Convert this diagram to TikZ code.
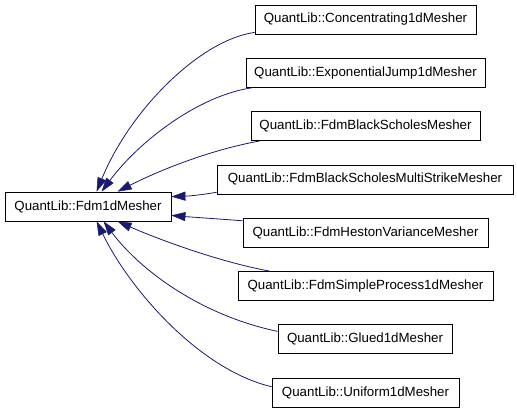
\documentclass[tikz,border=0pt]{standalone}
\usepackage{fontspec}
\setmainfont{Liberation Sans}
\usetikzlibrary{arrows.meta}
\definecolor{edgeblue}{HTML}{191970}
\begin{document}
\begin{tikzpicture}[x=1pt,y=-1pt,
  cls/.style={draw=black,line width=0.8pt,fill=white,minimum height=29pt,inner sep=0pt,
    font=\fontsize{13.3}{16}\selectfont},
  tipblue/.tip={Triangle[length=14pt,width=9pt,fill=edgeblue,line width=0.5pt]},
  inh/.style={draw=edgeblue,line width=0.8pt,-tipblue}]
\useasboundingbox (0,0) rectangle (517,413);
\node[cls,minimum width=166pt] (base) at (88,206.5) {QuantLib::Fdm1dMesher};
\node[cls,minimum width=221pt] (c1) at (365.5,19.5) {QuantLib::Concentrating1dMesher};
\node[cls,minimum width=239pt] (c2) at (365.5,72.8) {QuantLib::ExponentialJump1dMesher};
\node[cls,minimum width=229pt] (c3) at (365.5,126.1) {QuantLib::FdmBlackScholesMesher};
\node[cls,minimum width=296pt] (c4) at (365,179.4) {QuantLib::FdmBlackScholesMultiStrikeMesher};
\node[cls,minimum width=245pt] (c5) at (365.5,232.7) {QuantLib::FdmHestonVarianceMesher};
\node[cls,minimum width=255pt] (c6) at (365.5,286) {QuantLib::FdmSimpleProcess1dMesher};
\node[cls,minimum width=174pt] (c7) at (365,339.3) {QuantLib::Glued1dMesher};
\node[cls,minimum width=187pt] (c8) at (365.5,392.6) {QuantLib::Uniform1dMesher};
\draw[inh] ([yshift=2pt]c1.south west) .. controls (200,40) and (130,110) .. ([xshift=92pt]base.north west);
\draw[inh] ([xshift=7pt]c2.south west) .. controls (200,95) and (140,140) .. ([xshift=97pt]base.north west);
\draw[inh] ([xshift=9pt]c3.south west) .. controls (210,150) and (160,170) .. ([xshift=113pt]base.north west);
\draw[inh] ([yshift=2pt]c4.south west) .. controls (200,195) and (190,196) .. ([yshift=-5pt]base.north east);
\draw[inh] ([yshift=-3pt]c5.north west) .. controls (220,219) and (190,217) .. ([yshift=6pt]base.south east);
\draw[inh] ([xshift=32pt]c6.north west) .. controls (220,262) and (160,240) .. ([xshift=113pt]base.south west);
\draw[inh] ([yshift=-7pt]c7.north west) .. controls (200,315) and (140,270) .. ([xshift=99pt]base.south west);
\draw[inh] ([yshift=-9pt]c8.north west) .. controls (200,370) and (130,290) .. ([xshift=92pt]base.south west);
\end{tikzpicture}
\end{document}
